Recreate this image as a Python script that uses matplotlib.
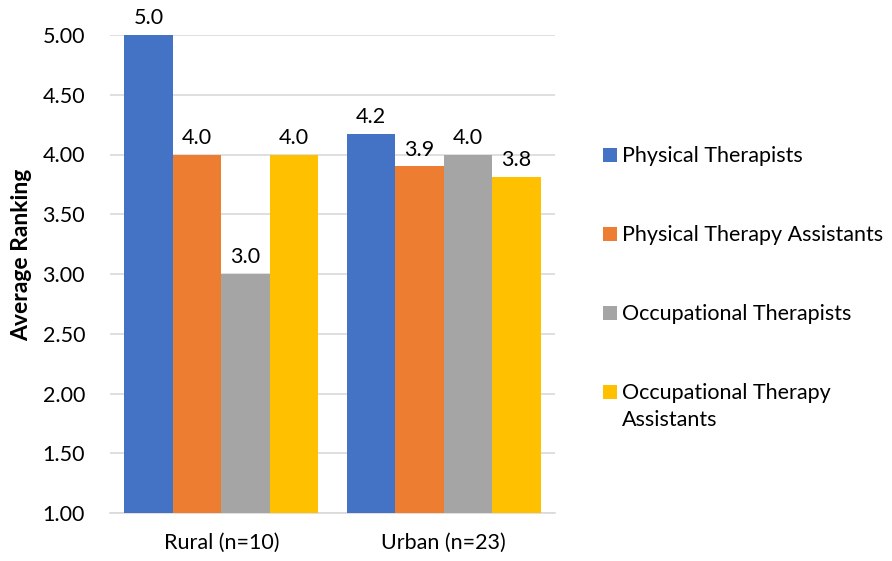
import numpy as np
import matplotlib.pyplot as plt
from matplotlib.patches import Rectangle

plt.rcParams['font.family'] = ['Lato', 'DejaVu Sans']

groups = ['Rural (n=10)', 'Urban (n=23)']
series = ['Physical Therapists', 'Physical Therapy Assistants',
          'Occupational Therapists', 'Occupational Therapy\nAssistants']
values = {
    'Physical Therapists': [5.0, 4.17],
    'Physical Therapy Assistants': [4.0, 3.90],
    'Occupational Therapists': [3.0, 4.0],
    'Occupational Therapy\nAssistants': [4.0, 3.81],
}
colors = ['#4472C4', '#ED7D31', '#A5A5A5', '#FFC000']
yticks = [1.0, 1.5, 2.0, 2.5, 3.0, 3.5, 4.0, 4.5, 5.0]

W, H = 892, 561
fs = 15.5

fig = plt.figure(figsize=(W / 100, H / 100), dpi=100)
ax = fig.add_axes([110 / W, 1 - 513 / H, 445 / W, 478 / H])

x = np.arange(len(groups))
width = 0.2175
base = 1.0
for i, (name, col) in enumerate(zip(series, colors)):
    vals = np.array(values[name])
    pos = x + (i - 1.5) * width
    ax.bar(pos, vals - base, width, bottom=base, color=col, zorder=3)
    for p, v in zip(pos, vals):
        ax.annotate(f'{v:.1f}', (p, v), xytext=(0, 5), textcoords='offset points',
                    ha='center', va='bottom', fontsize=fs)

ax.set_xlim(-0.5, 1.5)
ax.set_ylim(1.0, 5.0)
ax.set_yticks(yticks)
ax.set_yticklabels([f'{t:.2f}' for t in yticks], fontsize=fs)
ax.set_xticks(x)
ax.set_xticklabels(groups, fontsize=fs)
ax.tick_params(axis='both', length=0)
ax.tick_params(axis='x', pad=14)
ax.tick_params(axis='y', pad=18)
ax.grid(axis='y', color='#D9D9D9', linewidth=1.2, zorder=0)
for s in ['top', 'right', 'left']:
    ax.spines[s].set_visible(False)
ax.spines['bottom'].set_color('#D9D9D9')
ax.spines['bottom'].set_linewidth(1.2)
ax.set_ylabel('Average Ranking', fontsize=16.5, fontweight='bold')
ax.yaxis.set_label_coords(-0.175, 0.54)

# legend drawn by hand so the square lines up with the first text line
for i, (name, col) in enumerate(zip(series, colors)):
    yc = 155 + 79 * i
    fig.patches.append(Rectangle((603 / W, 1 - (yc + 7) / H), 14 / W, 14 / H,
                                 transform=fig.transFigure, facecolor=col,
                                 edgecolor='none'))
    fig.text(622 / W, 1 - (yc - 9) / H, name, fontsize=fs, va='top', ha='left',
             linespacing=1.45)

fig.savefig('out.png', dpi=100)
